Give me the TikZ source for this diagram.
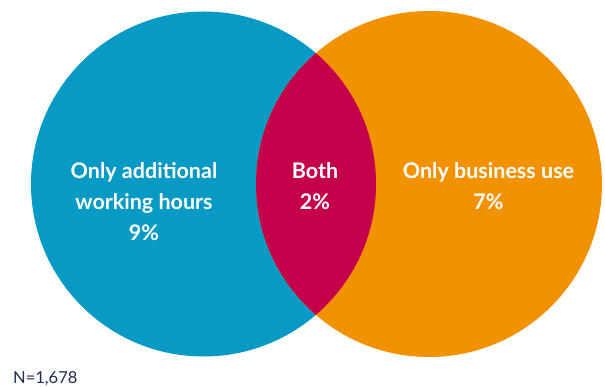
\documentclass[tikz,border=0pt]{standalone}
\usepackage{fontspec}
\setmainfont{Lato}
\definecolor{vennblue}{HTML}{069AC4}
\definecolor{vennorange}{HTML}{F39200}
\definecolor{vennred}{HTML}{C5004A}
\definecolor{vennnavy}{HTML}{1D2B4F}
\begin{document}
\begin{tikzpicture}[x=1pt,y=-1pt,
    setlabel/.style={text=white, font=\bfseries\fontsize{21.5}{31}\selectfont, align=center, inner sep=0pt},
    note/.style={text=vennnavy, font=\fontsize{16.5}{20}\selectfont, inner sep=0pt, anchor=base west}]
  \useasboundingbox (0,0) rectangle (605,387);

  % Sets
  \fill[vennblue] (203.5,184) circle (172.5pt);
  \fill[vennorange] (429,184) circle (173pt);

  % Overlap
  \begin{scope}
    \clip (203.5,184) circle (172.5pt);
    \fill[vennred] (429,184) circle (173pt);
  \end{scope}

  % Labels
  \node[setlabel] (hours) at (144,202) {Only additional\\working hours\\9\%};
  \node[setlabel] (both) at (315,186.5) {Both\\2\%};
  \node[setlabel] (business) at (488.5,186.5) {Only business use\\7\%};
  \node[note] (total) at (13,383) {N=1,678};
\end{tikzpicture}
\end{document}
